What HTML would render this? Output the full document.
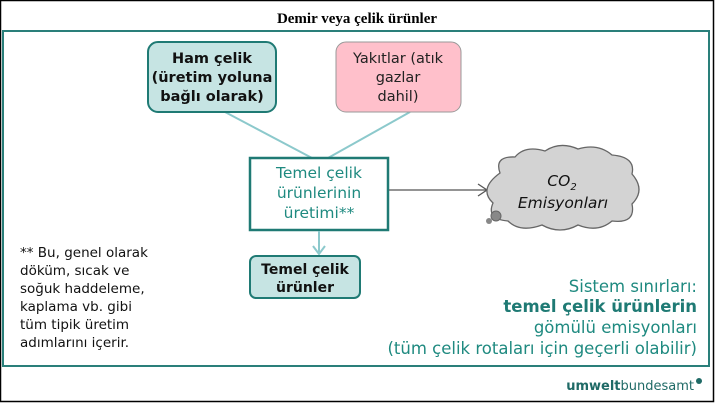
<!DOCTYPE html>
<html><head><meta charset="utf-8"><style>
body{margin:0;background:#fff}
svg{display:block}
text{font-family:"DejaVu Sans","Liberation Sans",sans-serif}
</style></head><body>
<svg width="715" height="403" viewBox="0 0 715 403">
<rect x="0.5" y="0.5" width="713" height="401" fill="#fff" stroke="#000" stroke-width="1.5"/>
<text x="357" y="23" text-anchor="middle" style="font-family:'Liberation Serif',serif;font-weight:bold;font-size:15px">Demir veya çelik ürünler</text>
<rect x="3" y="31" width="706" height="335" fill="none" stroke="#2a7f7a" stroke-width="2"/>
<line x1="225" y1="112" x2="312" y2="158" stroke="#8cc9cc" stroke-width="2"/>
<line x1="410" y1="112" x2="328" y2="158" stroke="#8cc9cc" stroke-width="2"/>
<rect x="148" y="42" width="128" height="70" rx="10" fill="#c6e4e3" stroke="#1f7a74" stroke-width="2"/>
<text font-size="14.5" font-weight="bold" text-anchor="middle" fill="#111"><tspan x="212" y="63">Ham çelik</tspan><tspan x="212" y="82">(üretim yoluna</tspan><tspan x="212" y="101">bağlı olarak)</tspan></text>
<rect x="336" y="42" width="125" height="70" rx="10" fill="#ffc0cb" stroke="#999" stroke-width="1"/>
<text font-size="14.5" text-anchor="middle" fill="#222"><tspan x="398" y="63">Yakıtlar (atık</tspan><tspan x="398" y="82">gazlar</tspan><tspan x="398" y="101">dahil)</tspan></text>
<rect x="250" y="158" width="138" height="72" fill="#fff" stroke="#1f7a74" stroke-width="2.5"/>
<text font-size="15.5" text-anchor="middle" fill="#1f8a80"><tspan x="319" y="178">Temel çelik</tspan><tspan x="319" y="198">ürünlerinin</tspan><tspan x="319" y="218">üretimi**</tspan></text>
<line x1="319" y1="231" x2="319" y2="252" stroke="#8cc9cc" stroke-width="2"/>
<path d="M313 246 L319 254 L325 246" fill="none" stroke="#8cc9cc" stroke-width="2"/>
<line x1="389" y1="190" x2="486" y2="190" stroke="#555" stroke-width="1.3"/>
<path d="M478 184 L487 190 L478 196" fill="none" stroke="#555" stroke-width="1.3"/>
<rect x="250" y="256" width="110" height="42" rx="6" fill="#c6e4e3" stroke="#1f7a74" stroke-width="2"/>
<text font-size="14" font-weight="bold" text-anchor="middle" fill="#111"><tspan x="305" y="274">Temel çelik</tspan><tspan x="305" y="292">ürünler</tspan></text>
<path d="M500 173 Q494 156 515 157 Q525 145 545 151 Q560 141 578 149 Q598 143 612 155 Q636 157 632 174 Q646 190 632 204 Q636 224 612 221 Q598 233 578 225 Q560 235 542 225 Q520 233 508 221 Q486 219 493 203 Q478 189 500 173 Z" fill="#d3d3d3" stroke="#666" stroke-width="1.3"/>
<circle cx="496" cy="216" r="5" fill="#888" stroke="#666"/>
<circle cx="489" cy="221" r="3" fill="#888"/>
<text font-size="15.5" font-style="italic" text-anchor="middle" fill="#111"><tspan x="562" y="186">CO<tspan font-size="10" dy="4">2</tspan></tspan><tspan x="563" y="208">Emisyonları</tspan></text>
<text font-size="13.5" fill="#111"><tspan x="20" y="257">** Bu, genel olarak</tspan><tspan x="20" y="275">döküm, sıcak ve</tspan><tspan x="20" y="293">soğuk haddeleme,</tspan><tspan x="20" y="311">kaplama vb. gibi</tspan><tspan x="20" y="329">tüm tipik üretim</tspan><tspan x="20" y="347">adımlarını içerir.</tspan></text>
<text font-size="16.5" text-anchor="end" fill="#1f8a80"><tspan x="697" y="292">Sistem sınırları:</tspan><tspan x="697" y="312" font-weight="bold" fill="#1f7a74">temel çelik ürünlerin</tspan><tspan x="697" y="333">gömülü emisyonları</tspan><tspan x="697" y="354">(tüm çelik rotaları için geçerli olabilir)</tspan></text>
<text x="694" y="390" text-anchor="end" font-size="13" fill="#1f6a66"><tspan font-weight="bold">umwelt</tspan><tspan>bundesamt</tspan></text>
<circle cx="699" cy="381" r="3" fill="#1f6a66"/>
</svg>
</body></html>
